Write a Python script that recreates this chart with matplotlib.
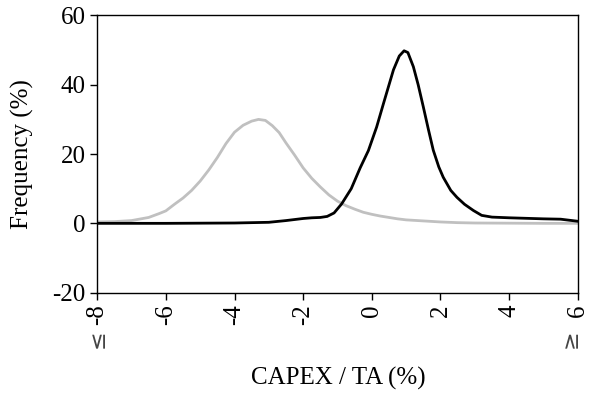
import numpy as np
import matplotlib
matplotlib.use("Agg")
import matplotlib.pyplot as plt
import matplotlib.transforms as mtransforms

plt.rcParams['font.family'] = ['Liberation Serif', 'DejaVu Serif']
plt.rcParams['axes.unicode_minus'] = False

# values
gray_x = [-8, -7.5, -7, -6.5, -6.2, -6, -5.75, -5.5, -5.25, -5, -4.75, -4.5,
          -4.25, -4, -3.75, -3.5, -3.3, -3.1, -2.9, -2.7, -2.5, -2.25, -2,
          -1.75, -1.5, -1.25, -1, -0.75, -0.5, -0.25, 0, 0.25, 0.5, 0.75, 1,
          1.5, 2, 2.5, 3, 4, 5, 6]
gray_y = [0.4, 0.5, 0.8, 1.7, 2.8, 3.6, 5.5, 7.3, 9.5, 12.2, 15.4, 19,
          23, 26.3, 28.3, 29.5, 30, 29.7, 28.2, 26.2, 23.2, 19.7, 16,
          13, 10.5, 8.2, 6.4, 5.1, 4.1, 3.2, 2.6, 2.1, 1.7, 1.3, 1.0,
          0.7, 0.4, 0.2, 0.1, 0.05, 0, 0]

black_x = [-8, -6, -4, -3, -2.5, -2, -1.75, -1.5, -1.3, -1.1, -0.88, -0.6,
           -0.34, -0.1, 0.14, 0.34, 0.63, 0.8, 0.94, 1.05, 1.21, 1.35, 1.5,
           1.65, 1.79, 1.95, 2.08, 2.3, 2.48, 2.7, 2.96, 3.2, 3.5, 4, 5,
           5.5, 6]
black_y = [0, 0, 0.1, 0.3, 0.8, 1.4, 1.6, 1.7, 2.0, 3.0, 5.6, 10,
           16, 21, 27.8, 34.6, 44.3, 48.3, 49.8, 49.3, 45.2, 40, 33.6,
           27, 21.1, 16.3, 13.3, 9.5, 7.5, 5.5, 3.7, 2.3, 1.8, 1.6, 1.3,
           1.2, 0.6]

xticks = [-8, -6, -4, -2, 0, 2, 4, 6]
yticks = [-20, 0, 20, 40, 60]

fig = plt.figure(figsize=(5.89, 3.96), dpi=100)
ax = fig.add_axes([0.165, 0.261, 0.816, 0.700])

ax.plot(gray_x, gray_y, color='#c0c0c0', lw=2.0, zorder=2,
        solid_joinstyle='round')
ax.plot(black_x, black_y, color='black', lw=2.0, zorder=3,
        solid_joinstyle='round')

ax.set_xlim(-8, 6)
ax.set_ylim(-20, 60)
ax.set_xticks(xticks)
ax.set_xticklabels([str(t) for t in xticks], rotation=90)
ax.set_yticks(yticks)
ax.tick_params(labelsize=18, direction='out', length=5, width=1)
for s in ax.spines.values():
    s.set_linewidth(1)

trans = mtransforms.blended_transform_factory(ax.transData, ax.transAxes)
ax.text(-8, -0.165, '≤', rotation=90, ha='center', va='center', fontsize=16,
        family='DejaVu Sans', color='#444444', transform=trans)
ax.text(5.8, -0.165, '≥', rotation=90, ha='center', va='center', fontsize=16,
        family='DejaVu Sans', color='#444444', transform=trans)

ax.set_ylabel('Frequency (%)', fontsize=18)
ax.yaxis.set_label_coords(-0.132, 0.5)
fig.text(0.574, 0.045, 'CAPEX / TA (%)', ha='center', va='center', fontsize=18)

fig.savefig('out.png', dpi=100)
